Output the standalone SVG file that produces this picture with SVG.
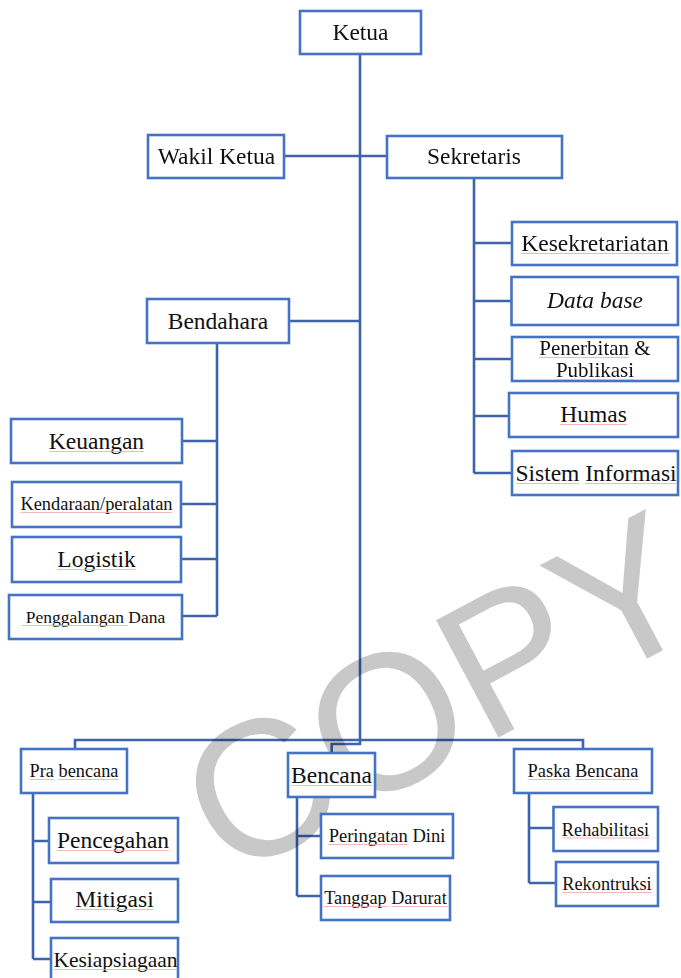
<svg xmlns="http://www.w3.org/2000/svg" width="681" height="978" viewBox="0 0 681 978">
<style>
.box{fill:#ffffff;stroke:#4472C4;stroke-width:2.6}
.ln{fill:none;stroke:#3E63AD;stroke-width:2.6}
.t{fill:#111;text-anchor:middle}
.sq{stroke:#f0a8a8;stroke-width:1;opacity:0.8}
</style>
<rect width="681" height="978" fill="#ffffff"/>
<g id="connectors">
<path class="ln" d="M360 54 V744 H331.7 V753"/>
<path class="ln" d="M284 156 H387"/>
<path class="ln" d="M474 178 V473 M474 243 H512 M474 301 H511.5 M474 359 H512 M474 416 H509 M474 473 H512"/>
<path class="ln" d="M289 321 H360"/>
<path class="ln" d="M217 343 V616 M217 441 H182 M217 504 H181 M217 559 H181 M217 616 H182"/>
<path class="ln" d="M75 749 V740 H583 V749"/>
<path class="ln" d="M33 793 V959 M33 841 H49 M33 902 H51 M33 959 H51"/>
<path class="ln" d="M297 797 V896 M297 836 H321 M297 896 H321"/>
<path class="ln" d="M529 793 V883 M529 828 H553.5 M529 883 H556"/>
</g>
<g id="watermark">
<text x="229" y="881" transform="rotate(-28 229 881)" style="font-family:'Liberation Sans',Arial,sans-serif;font-size:193px;fill:#c8c8c8;mix-blend-mode:multiply">COP<tspan style="letter-spacing:-70px">Y</tspan></text>
</g>
<g id="nodes">
<g id="node-ketua"><rect class="box" x="300" y="11" width="121" height="43"/><text class="t" x="360.5" y="40" style="font-family:'Liberation Serif',serif;font-size:23.5px">Ketua</text></g>
<g id="node-wakil"><rect class="box" x="148" y="135" width="136" height="43"/><text class="t" x="216.5" y="164" style="font-family:'Liberation Serif',serif;font-size:23.5px">Wakil Ketua</text></g>
<g id="node-sekretaris"><rect class="box" x="387" y="136" width="175" height="42"/><text class="t" x="474" y="164" style="font-family:'Liberation Serif',serif;font-size:23.5px">Sekretaris</text></g>
<g id="node-kesekretariatan"><rect class="box" x="512" y="222" width="165" height="43"/><text class="t" x="595" y="251" style="font-family:'Liberation Serif',serif;font-size:23.5px">Kesekretariatan</text><line class="sq" x1="521" y1="253.5" x2="669" y2="253.5"/></g>
<g id="node-database"><rect class="box" x="511.5" y="277" width="166.5" height="48"/><text class="t" x="595" y="308" style="font-family:'Liberation Serif',serif;font-size:23.5px;font-style:italic">Data base</text></g>
<g id="node-penerbitan"><rect class="box" x="512" y="337" width="166" height="44"/><text class="t" x="595" y="355" style="font-family:'Liberation Serif',serif;font-size:21px">Penerbitan &amp;</text><text class="t" x="595" y="377" style="font-family:'Liberation Serif',serif;font-size:21px">Publikasi</text><line class="sq" x1="539" y1="357.5" x2="629" y2="357.5"/><line class="sq" x1="556" y1="379.5" x2="634" y2="379.5"/></g>
<g id="node-humas"><rect class="box" x="509" y="393" width="169" height="44"/><text class="t" x="593.5" y="422" style="font-family:'Liberation Serif',serif;font-size:23.5px">Humas</text><line class="sq" x1="560" y1="424.5" x2="627" y2="424.5"/></g>
<g id="node-sistem"><rect class="box" x="512" y="451" width="166" height="44"/><text class="t" x="596" y="481" style="font-family:'Liberation Serif',serif;font-size:23.5px">Sistem Informasi</text><line class="sq" x1="516" y1="483.5" x2="579" y2="483.5"/><line class="sq" x1="585" y1="483.5" x2="676" y2="483.5"/></g>
<g id="node-bendahara"><rect class="box" x="147" y="299" width="142" height="44"/><text class="t" x="218" y="329" style="font-family:'Liberation Serif',serif;font-size:23.5px">Bendahara</text></g>
<g id="node-keuangan"><rect class="box" x="11" y="419" width="171" height="44"/><text class="t" x="96.5" y="449" style="font-family:'Liberation Serif',serif;font-size:23.5px">Keuangan</text><line class="sq" x1="49" y1="451.5" x2="144" y2="451.5"/></g>
<g id="node-kendaraan"><rect class="box" x="12" y="482" width="169" height="45"/><text class="t" x="96.5" y="510" style="font-family:'Liberation Serif',serif;font-size:18.4px">Kendaraan/peralatan</text><line class="sq" x1="20.5" y1="512.5" x2="172.5" y2="512.5"/></g>
<g id="node-logistik"><rect class="box" x="12" y="537" width="169" height="45"/><text class="t" x="96.5" y="567" style="font-family:'Liberation Serif',serif;font-size:23.5px">Logistik</text><line class="sq" x1="57" y1="569.5" x2="136" y2="569.5"/></g>
<g id="node-penggalangan"><rect class="box" x="9" y="595" width="173" height="44"/><text class="t" x="95.5" y="623" style="font-family:'Liberation Serif',serif;font-size:17.5px">Penggalangan Dana</text><line class="sq" x1="22" y1="625.5" x2="128" y2="625.5"/></g>
<g id="node-prabencana"><rect class="box" x="21" y="749" width="106" height="44"/><text class="t" x="74" y="777" style="font-family:'Liberation Serif',serif;font-size:18.3px">Pra bencana</text><line class="sq" x1="29.5" y1="779.5" x2="54" y2="779.5"/><line class="sq" x1="58.6" y1="779.5" x2="118.4" y2="779.5"/></g>
<g id="node-bencana"><rect class="box" x="288" y="753" width="87" height="44"/><text class="t" x="331.5" y="783" style="font-family:'Liberation Serif',serif;font-size:23.5px">Bencana</text><line class="sq" x1="291" y1="785.5" x2="372" y2="785.5"/></g>
<g id="node-paska"><rect class="box" x="514" y="749" width="138" height="44"/><text class="t" x="583" y="777" style="font-family:'Liberation Serif',serif;font-size:18.4px">Paska Bencana</text><line class="sq" x1="527.6" y1="779.5" x2="570.5" y2="779.5"/><line class="sq" x1="575.1" y1="779.5" x2="638.5" y2="779.5"/></g>
<g id="node-pencegahan"><rect class="box" x="49" y="818" width="129" height="45"/><text class="t" x="113" y="848" style="font-family:'Liberation Serif',serif;font-size:23.5px">Pencegahan</text><line class="sq" x1="57" y1="850.5" x2="169" y2="850.5"/></g>
<g id="node-mitigasi"><rect class="box" x="51" y="879" width="127" height="43"/><text class="t" x="114.5" y="907" style="font-family:'Liberation Serif',serif;font-size:23.5px">Mitigasi</text><line class="sq" x1="75.3" y1="909.5" x2="153.7" y2="909.5"/></g>
<g id="node-kesiapsiagaan"><rect class="box" x="51" y="938" width="127" height="44"/><text class="t" x="115.5" y="967" style="font-family:'Liberation Serif',serif;font-size:21.5px">Kesiapsiagaan</text><line class="sq" x1="53.5" y1="969.5" x2="177.5" y2="969.5"/></g>
<g id="node-peringatan"><rect class="box" x="321" y="814" width="132" height="44"/><text class="t" x="387" y="842" style="font-family:'Liberation Serif',serif;font-size:18.5px">Peringatan Dini</text><line class="sq" x1="328.7" y1="844.5" x2="407.8" y2="844.5"/></g>
<g id="node-tanggap"><rect class="box" x="321" y="876" width="129" height="44"/><text class="t" x="385.5" y="904" style="font-family:'Liberation Serif',serif;font-size:18.2px">Tanggap Darurat</text><line class="sq" x1="323.6" y1="906.5" x2="387.3" y2="906.5"/><line class="sq" x1="391.8" y1="906.5" x2="447.4" y2="906.5"/></g>
<g id="node-rehabilitasi"><rect class="box" x="553.5" y="807" width="104.5" height="44"/><text class="t" x="605.5" y="835.5" style="font-family:'Liberation Serif',serif;font-size:18.3px">Rehabilitasi</text><line class="sq" x1="562" y1="838" x2="649" y2="838"/></g>
<g id="node-rekontruksi"><rect class="box" x="556" y="862" width="102" height="44"/><text class="t" x="607" y="890" style="font-family:'Liberation Serif',serif;font-size:18.3px">Rekontruksi</text><line class="sq" x1="562" y1="892.5" x2="651.5" y2="892.5"/></g>
</g>
</svg>
